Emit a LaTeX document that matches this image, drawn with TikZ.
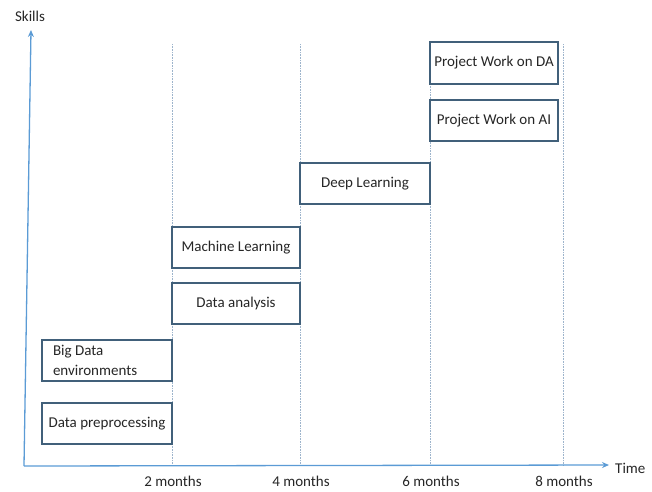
\documentclass[tikz,border=0pt]{standalone}
\usepackage{fontspec}
\setmainfont{Carlito}
\usetikzlibrary{arrows.meta}
\definecolor{axisblue}{HTML}{5B9BD5}
\definecolor{boxline}{HTML}{41607A}
\definecolor{guide}{HTML}{9DB4CC}
\definecolor{txt}{HTML}{262626}
\begin{document}
\begin{tikzpicture}[x=1pt,y=-1pt,
    font=\fontsize{15}{17}\selectfont, text=txt,
    skillbox/.style={draw=boxline, line width=1.6pt, fill=white, minimum height=41pt, inner sep=2pt},
    axis/.style={draw=axisblue, line width=1.3pt, -{Stealth[length=7pt,width=6pt]}},
    guideline/.style={draw=guide, line width=0.6pt, densely dotted}]
    \useasboundingbox (0,0) rectangle (652,491);
    % time grid
    \foreach \x/\m in {172/2,300/4,430/6,563/8}{
        \coordinate (top\m) at (\x,44);
        \coordinate (bot\m) at (\x,466);
        \draw[guideline] (top\m) -- (bot\m);
        \node (lab\m) at (\x+1,481) {\m\ months};
    }
    % axes
    \coordinate (origin) at (24,466);
    \coordinate (ytip) at (31,30);
    \coordinate (xtip) at (609,465);
    \draw[axis] (origin) -- (ytip);
    \draw[axis] (origin) -- (xtip);
    \node[anchor=west, inner sep=0pt] (time) at (615,468) {Time};
    \node (skills) at (30,16) {Skills};
    % skills
    \node[skillbox, minimum width=130pt] (prep) at (107,423.5) {Data preprocessing};
    \node[skillbox, minimum width=130pt, align=flush left, text width=108pt,
          font=\fontsize{15}{20}\selectfont] (bigdata) at (107,360.5) {Big Data\\environments};
    \node[skillbox, minimum width=128pt] (analysis) at (236,303.5) {Data analysis};
    \node[skillbox, minimum width=128pt] (ml) at (236,247.5) {Machine Learning};
    \node[skillbox, minimum width=130pt] (dl) at (365,183.5) {Deep Learning};
    \node[skillbox, minimum width=128pt] (ai) at (494,120.5) {Project Work on AI};
    \node[skillbox, minimum width=128pt, minimum height=42pt] (da) at (494,63) {Project Work on DA};
\end{tikzpicture}
\end{document}
